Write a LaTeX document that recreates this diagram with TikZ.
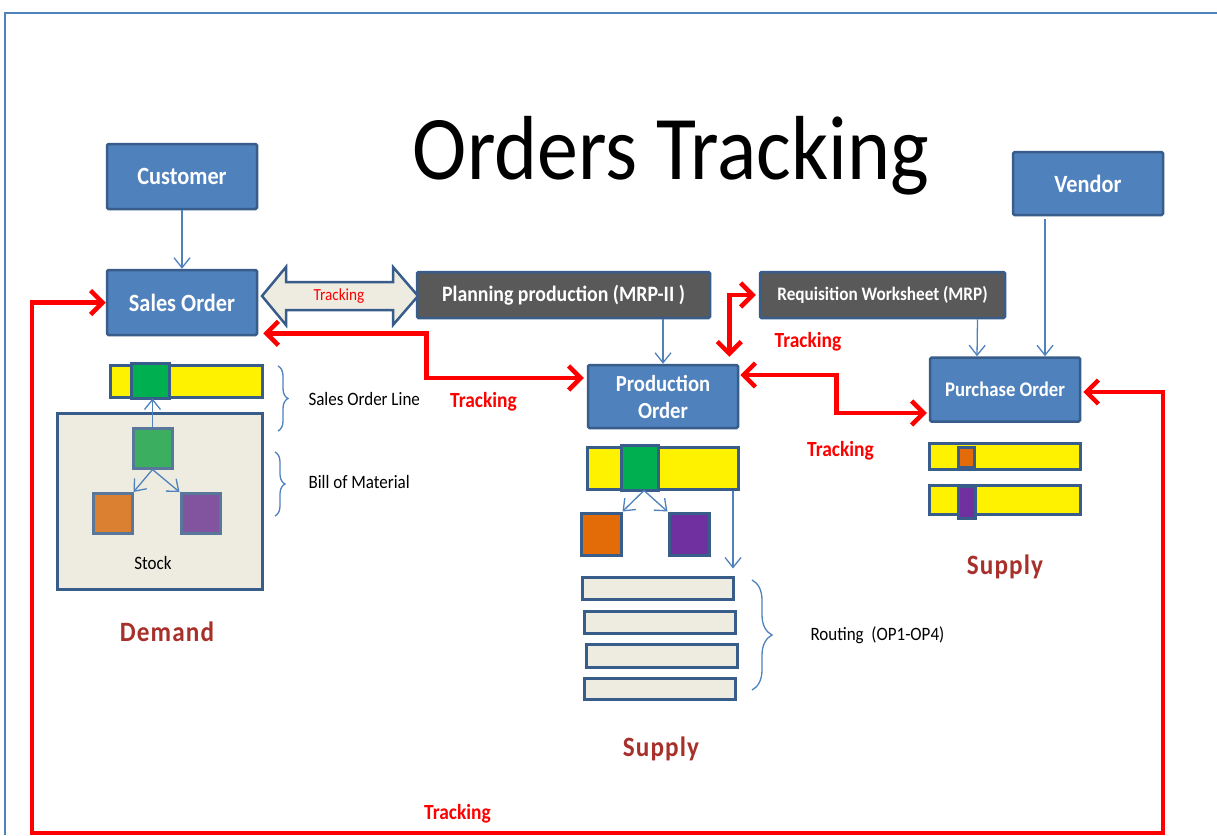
\documentclass[tikz,border=0pt]{standalone}
\usepackage{fontspec}
\setmainfont{Carlito}[FakeStretch=0.9]
\usetikzlibrary{arrows.meta,positioning,calc,decorations.pathreplacing}

\definecolor{boxblue}{HTML}{4F81BD}
\definecolor{edgeblue}{HTML}{385D8A}
\definecolor{plangray}{HTML}{595959}
\definecolor{paper}{HTML}{EEECE1}
\definecolor{linegreen}{HTML}{00B050}
\definecolor{stockgreen}{HTML}{3BAF5F}
\definecolor{stockorange}{HTML}{DB8030}
\definecolor{stockpurple}{HTML}{8254A0}
\definecolor{partorange}{HTML}{E36C09}
\definecolor{partpurple}{HTML}{7030A0}
\definecolor{sideedge}{HTML}{58779A}
\definecolor{wordred}{HTML}{A8302B}

\tikzset{
	entity/.style={draw=edgeblue, line width=2.5pt, fill=boxblue, text=white, rounded corners=1.5pt, align=center, inner sep=0pt, font=\bfseries\fontsize{24.8}{27}\selectfont},
	planbox/.style={entity, fill=plangray},
	barline/.style={draw=edgeblue, line width=3pt, inner sep=0pt},
	part/.style={draw=sideedge, line width=3pt, inner sep=0pt, minimum width=39pt, minimum height=40pt},
	routebar/.style={barline, fill=paper, minimum width=151pt},
	flowhead/.tip={Straight Barb[length=10pt,width=16pt]},
	trkhead/.tip={Straight Barb[length=12pt,width=24pt]},
	flow/.style={draw=boxblue, line width=1.3pt, -flowhead},
	trackline/.style={draw=red, line width=4.5pt, trkhead-trkhead},
	bracket/.style={draw=boxblue, line width=1.3pt, decorate, decoration={brace, amplitude=#1}},
	bracket/.default=10pt,
	sidetext/.style={font=\fontsize{18.9}{21}\selectfont, anchor=base west},
	tracklbl/.style={text=red, font=\bfseries\fontsize{21.6}{24}\selectfont, anchor=base},
	bigword/.style={text=wordred, anchor=base, font=\bfseries\fontsize{28}{32}\selectfont\addfontfeatures{LetterSpace=4}}
}

\begin{document}
\begin{tikzpicture}[x=1pt,y=-1pt]
	\useasboundingbox (0,0) rectangle (1217,835);
	\fill[white] (0,0) rectangle (1217,835);
	%Draw frame
	\draw[boxblue, line width=2pt] (5,835) -- (5,13) -- (1217,13);
	%Draw title
	\node[font=\fontsize{91}{100}\selectfont, anchor=base] (title) at (671,179) {Orders Tracking};

	%Draw order boxes
	\node[entity, minimum width=150pt, minimum height=65pt] (cust) at (182,176.5) {Customer};
	\node[entity, minimum width=150pt, minimum height=65pt] (so) at (182,302.5) {Sales Order};
	\node[planbox, minimum width=293pt, minimum height=46pt, font=\bfseries\fontsize{22}{24}\selectfont] (plan) at (563.5,295) {Planning production (MRP-II )};
	\node[planbox, minimum width=245pt, minimum height=46pt, font=\bfseries\fontsize{19.1}{22}\selectfont] (req) at (882.5,295) {Requisition Worksheet (MRP)};
	\node[entity, minimum width=150pt, minimum height=63pt, font=\bfseries\fontsize{23}{27}\selectfont] (prod) at (663,396.5) {Production\\Order};
	\node[entity, minimum width=150pt, minimum height=64pt, font=\bfseries\fontsize{20.8}{24}\selectfont] (po) at (1005,389.5) {Purchase Order};
	\node[entity, minimum width=150pt, minimum height=63pt] (vend) at (1088,183.5) {Vendor};

	%Draw tracking double arrow
	\draw[draw=edgeblue, fill=paper, line width=2.5pt] (262,296) -- (286,267) -- (286,282) -- (393,282) -- (393,267) -- (418,296)
		-- (393,325) -- (393,310) -- (286,310) -- (286,325) -- cycle;
	\node[text=red, font=\fontsize{16.9}{18}\selectfont, anchor=base] (trk1) at (339,300) {Tracking};

	%Draw demand side
	\node[barline, fill=yellow, minimum width=152pt, minimum height=32pt] (soline) at (186,381) {};
	\draw[barline, fill=linegreen] ([xshift=23pt]soline.north west) rectangle ([xshift=61pt]soline.south west);
	\node[barline, fill=paper, minimum width=205pt, minimum height=176pt] (stock) at (159.5,501) {};
	\node[part, fill=stockgreen] (sqg) at (152.5,448) {};
	\node[part, fill=stockorange] (sqo) at (112.5,513.5) {};
	\node[part, fill=stockpurple] (sqp) at (200.5,513.5) {};
	\node[font=\fontsize{18.9}{21}\selectfont, anchor=base] (stocklbl) at (153,569) {Stock};
	\draw[flow] (sqg.north) -- (sqg.north |- soline.south);
	\draw[flow] (sqg.south) -- (sqo.north east);
	\draw[flow] (sqg.south) -- (sqp.north west);
	\draw[bracket] (278,366) -- (278,431);
	\draw[bracket] (275,452) -- (275,516);
	\node[sidetext] (linelbl) at (305,405) {Sales Order Line};
	\node[sidetext] (bomlbl) at (305,488) {Bill of Material};
	\node[bigword] (demand) at (167,641) {Demand};

	%Draw production side
	\node[barline, fill=yellow, minimum width=151pt, minimum height=42pt] (pbar) at (662.5,468) {};
	\draw[barline, fill=linegreen] ([xshift=36pt]pbar.north west) rectangle ([xshift=73pt]pbar.south west);
	\node[part, draw=edgeblue, fill=partorange, minimum width=40pt, minimum height=42pt] (pord) at (601,534) {};
	\node[part, draw=edgeblue, fill=partpurple, minimum width=40pt, minimum height=42pt] (ppur) at (689,534) {};
	\draw[flow] ([xshift=-18.5pt]pbar.south) -- (pord.north east);
	\draw[flow] ([xshift=-18.5pt]pbar.south) -- (ppur.north west);
	\node[routebar, minimum height=22pt] (op1) at (658,588) {};
	\node[routebar, minimum height=22pt] (op2) at (659.5,622) {};
	\node[routebar, minimum height=23pt] (op3) at (661.5,655.5) {};
	\node[routebar, minimum height=21pt] (op4) at (659.5,688.5) {};
	\coordinate (routetap) at ([xshift=70.5pt]pbar.south);
	\draw[flow, shorten >=7pt] (routetap) -- (routetap |- op1.north);
	\draw[bracket=20pt] (752,580) -- (752,690);
	\node[sidetext] (routelbl) at (807,640) {Routing\ \ (OP1-OP4)};
	\node[bigword] (supply) at (661,756) {Supply};

	%Draw purchase side
	\node[barline, fill=yellow, minimum width=151pt, minimum height=26pt] (pl1) at (1004.5,456) {};
	\draw[barline, fill=partorange] ([xshift=31pt,yshift=-6pt]pl1.north west) rectangle ([xshift=47pt,yshift=3pt]pl1.south west);
	\node[barline, fill=yellow, minimum width=151pt, minimum height=29pt] (pl2) at (1004.5,499.5) {};
	\draw[barline, fill=partpurple] ([xshift=31pt,yshift=-3pt]pl2.north west) rectangle ([xshift=48pt,yshift=-3pt]pl2.south west);
	\node[bigword] (buy) at (1005,574) {Supply};

	%Draw document flow
	\draw[flow] (cust.south) -- (so.north);
	\draw[flow] (plan.south -| prod.north) -- (prod.north);
	\draw[flow] ([xshift=95pt]req.south) -- ([xshift=-28pt]po.north);
	\draw[flow] ([xshift=-43pt,yshift=-3pt]vend.south) -- ([xshift=40pt]po.north);

	%Draw tracking links
	\coordinate (loopcorner) at (1163,833);
	\draw[trackline] ([xshift=5pt,yshift=3pt]so.south east) -- ++(163,0) |- ([xshift=-3pt,yshift=18.5pt]prod.west);
	\draw[trackline] ([xshift=-10pt,yshift=7pt]prod.north east) |- ([xshift=-3pt]req.west);
	\draw[trackline] ([xshift=1pt,yshift=21.5pt]prod.east) -- ++(96,0) |- ([xshift=-2pt,yshift=-23.5pt]po.west);
	\draw[trackline] ([xshift=2pt,yshift=-2.5pt]po.east) -| (loopcorner) -| ([xshift=-74pt]so.west) -- (so.west);
	\node[tracklbl] (trk2) at (483.5,407) {Tracking};
	\node[tracklbl] (trk3) at (808,347) {Tracking};
	\node[tracklbl] (trk4) at (840.5,456) {Tracking};
	\node[tracklbl] (trk5) at (457.5,819) {Tracking};
\end{tikzpicture}
\end{document}
